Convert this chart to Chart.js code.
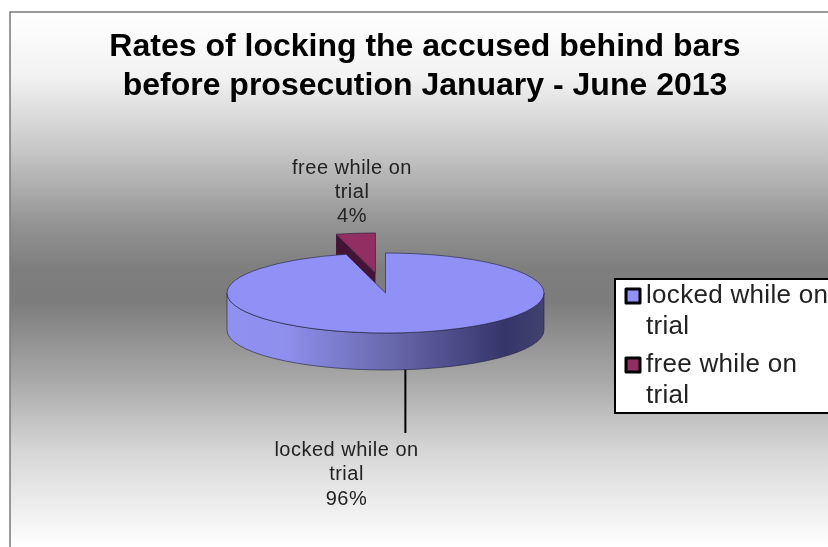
<!DOCTYPE html>
<html>
<head>
<meta charset="utf-8">
<title>Rates of locking the accused behind bars</title>
<script src="https://cdn.jsdelivr.net/npm/chart.js@4/dist/chart.umd.min.js"></script>
<style>
html,body{margin:0;padding:0;background:#fff;}
#wrap{width:828px;height:547px;position:relative;overflow:hidden;}
</style>
</head>
<body>
<div id="wrap"><canvas id="pie" width="828" height="547"></canvas></div>
<script>
const categories=[["locked while on","trial"],["free while on","trial"]];
const shares=[96,4];
const sliceColors=["#9090f6","#932e62"];
const titleLines=["Rates of locking the accused behind bars","before prosecution January - June 2013"];

// where the tilted pie sits on the canvas
const PIE_X=385.5,PIE_Y=293,RX=158.5,RY=40,DEPTH=37;
const EXPLODE=0.505; // pulled-out slice, as a share of the radius
const FONT='"Liberation Sans", Arial, sans-serif';

function drawBackdrop(ctx,w,h){
  ctx.fillStyle="#fff";
  ctx.fillRect(0,0,w,h);
  const g=ctx.createLinearGradient(0,12,0,547);
  g.addColorStop(0,"#ffffff");
  g.addColorStop(0.12,"#f2f2f2");
  g.addColorStop(0.26,"#c6c6c6");
  g.addColorStop(0.40,"#929292");
  g.addColorStop(0.48,"#7e7e7e");
  g.addColorStop(0.54,"#7c7c7c");
  g.addColorStop(0.68,"#a6a6a6");
  g.addColorStop(0.82,"#d6d6d6");
  g.addColorStop(1,"#ffffff");
  ctx.fillStyle=g;
  ctx.fillRect(10,12,w-10,h-12);
  ctx.strokeStyle="#7a7a7a";
  ctx.lineWidth=1.5;
  ctx.beginPath();
  ctx.moveTo(10,h);ctx.lineTo(10,12);ctx.lineTo(w,12);
  ctx.stroke();
}

// squash the round arc onto the tilted plane
function tilt(ctx,arc){
  ctx.translate(PIE_X,PIE_Y);
  ctx.scale(RX/arc.outerRadius,RY/arc.outerRadius);
  ctx.translate(-arc.x,-arc.y);
}

function drawArcTop(ctx,arc,dx,dy){
  ctx.save();
  ctx.translate(dx,dy);
  ctx.save();
  tilt(ctx,arc);
  arc.draw(ctx);
  ctx.beginPath();
  ctx.moveTo(arc.x,arc.y);
  ctx.arc(arc.x,arc.y,arc.outerRadius,arc.startAngle,arc.endAngle);
  ctx.closePath();
  ctx.restore();
  ctx.strokeStyle="rgba(30,30,60,0.75)";
  ctx.lineWidth=0.8;
  ctx.stroke();
  ctx.restore();
}

function drawFrontWall(ctx){
  const g=ctx.createLinearGradient(PIE_X-RX,0,PIE_X+RX,0);
  g.addColorStop(0,"#9090f2");
  g.addColorStop(0.18,"#8f8fee");
  g.addColorStop(0.5,"#6a6ab0");
  g.addColorStop(0.88,"#35356a");
  g.addColorStop(1,"#42426f");
  ctx.beginPath();
  ctx.ellipse(PIE_X,PIE_Y,RX,RY,0,0,Math.PI);
  ctx.ellipse(PIE_X,PIE_Y+DEPTH,RX,RY,0,Math.PI,0,true);
  ctx.closePath();
  ctx.fillStyle=g;
  ctx.fill();
  ctx.strokeStyle="rgba(30,30,60,0.75)";
  ctx.lineWidth=0.8;
  ctx.stroke();
}

function drawMultiline(ctx,lines,x,y,step){
  lines.forEach((t,i)=>ctx.fillText(t,x,y+i*step));
}

function drawLegend(ctx){
  ctx.fillStyle="#fff";
  ctx.fillRect(615,279,220,134);
  ctx.strokeStyle="#000";
  ctx.lineWidth=2;
  ctx.strokeRect(615,279,220,134);
  ctx.textAlign="left";
  ctx.textBaseline="middle";
  ctx.font="26px "+FONT;
  ctx.letterSpacing="0.3px";
  const rows=[296,365];
  categories.forEach((lines,i)=>{
    ctx.fillStyle=sliceColors[i];
    ctx.fillRect(626,rows[i]-7,14,14);
    ctx.strokeStyle="#000";
    ctx.lineWidth=3;
    ctx.lineJoin="round";
    ctx.strokeRect(626,rows[i]-7,14,14);
    ctx.fillStyle="#222";
    drawMultiline(ctx,lines,646,rows[i],31);
  });
  ctx.letterSpacing="0px";
}

const tiltedPie={
  id:"tiltedPie",
  beforeDraw(chart){
    drawBackdrop(chart.ctx,chart.width,chart.height);
  },
  beforeDatasetsDraw(chart){
    const ctx=chart.ctx;
    const arcs=chart.getDatasetMeta(0).data;
    const main=arcs[0],slice=arcs[1];
    const mid=(slice.startAngle+slice.endAngle)/2;
    const ox=Math.cos(mid)*EXPLODE*RX,oy=Math.sin(mid)*EXPLODE*RY;

    // cut face of the pulled-out slice, sits behind the big slice
    const cx=PIE_X+ox,cy=PIE_Y+oy;
    const px=cx+Math.cos(slice.startAngle)*RX,py=cy+Math.sin(slice.startAngle)*RY;
    ctx.beginPath();
    ctx.moveTo(px,py);ctx.lineTo(cx,cy);ctx.lineTo(cx,cy+DEPTH);ctx.lineTo(px,py+DEPTH);
    ctx.closePath();
    ctx.fillStyle="#431433";
    ctx.fill();
    drawArcTop(ctx,slice,ox,oy);

    drawFrontWall(ctx);
    drawArcTop(ctx,main,0,0);

    // leader line from the middle of the big slice
    const a=(main.startAngle+main.endAngle)/2;
    const lx=PIE_X+Math.cos(a)*RX,ly=PIE_Y+Math.sin(a)*RY+DEPTH;
    ctx.strokeStyle="#000";
    ctx.lineWidth=2;
    ctx.beginPath();
    ctx.moveTo(lx,ly);ctx.lineTo(lx,433);
    ctx.stroke();

    // data labels
    const total=shares.reduce((s,v)=>s+v,0);
    ctx.font="20px "+FONT;
    ctx.letterSpacing="0.5px";
    ctx.fillStyle="#222";
    ctx.textAlign="center";
    ctx.textBaseline="middle";
    drawMultiline(ctx,[...categories[1],Math.round(shares[1]/total*100)+"%"],352,168,24);
    drawMultiline(ctx,[...categories[0],Math.round(shares[0]/total*100)+"%"],346.5,450,24.5);
    ctx.letterSpacing="0px";

    drawLegend(ctx);
    return false;
  }
};

new Chart(document.getElementById("pie"),{
  type:"pie",
  data:{
    labels:categories,
    datasets:[{data:shares,backgroundColor:sliceColors,borderWidth:0}]
  },
  options:{
    responsive:false,
    animation:false,
    layout:{padding:{left:22,right:0,top:0,bottom:0}},
    plugins:{
      legend:{display:false},
      tooltip:{enabled:false},
      title:{
        display:true,
        text:titleLines,
        color:"#000",
        font:{family:FONT,size:32,weight:"bold",lineHeight:1.22},
        padding:{top:28,bottom:20}
      }
    }
  },
  plugins:[tiltedPie]
});
</script>
</body>
</html>
